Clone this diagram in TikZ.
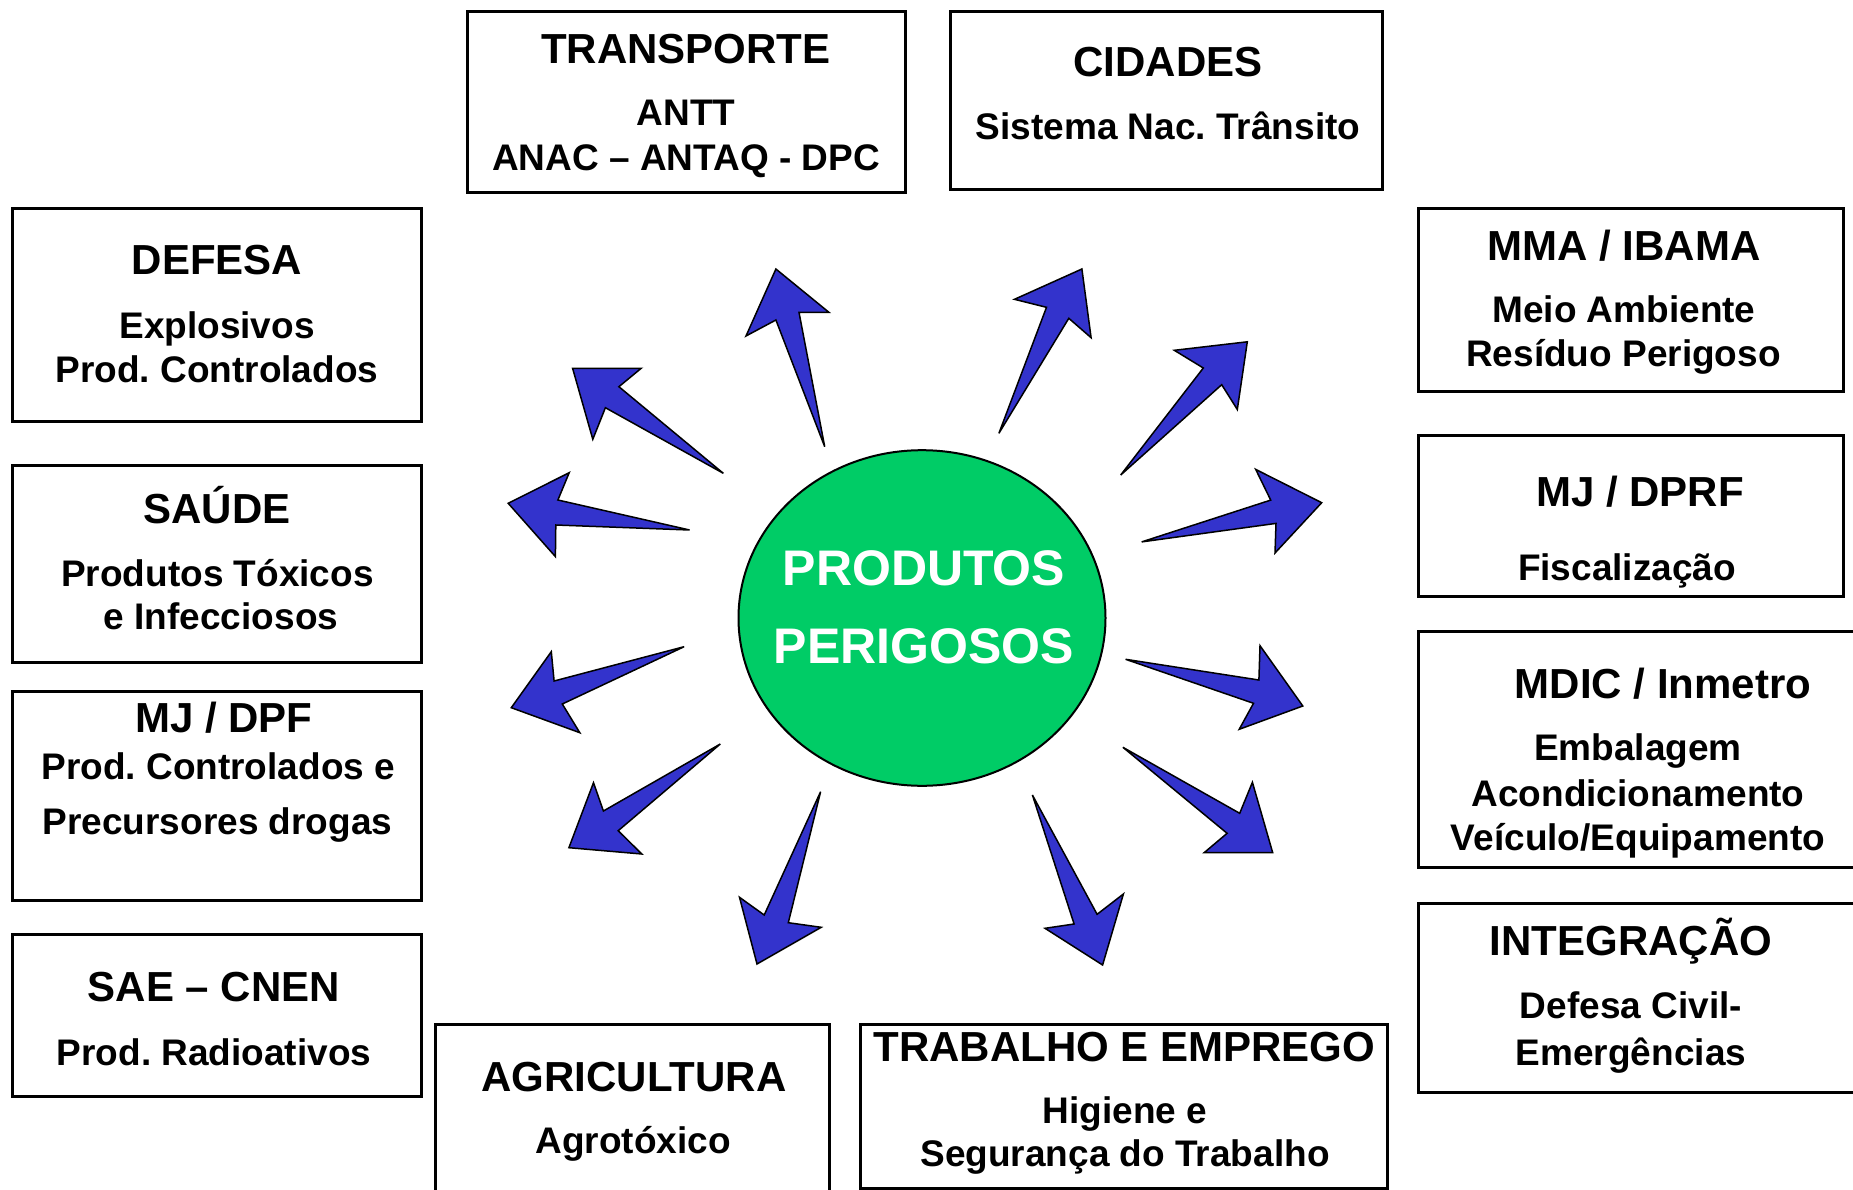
\documentclass[tikz,border=0pt]{standalone}
\usepackage{fontspec}
\setmainfont{Liberation Sans}
\usetikzlibrary{shapes.geometric}
\definecolor{pgreen}{RGB}{0,204,102}
\definecolor{pblue}{RGB}{51,51,204}
\frenchspacing
\begin{document}
\begin{tikzpicture}[x=1pt,y=-1pt,
 box/.style={draw=black, line width=3pt, inner sep=0pt, outer sep=0pt, rectangle},
 ttl/.style={font=\fontsize{42}{48}\selectfont\bfseries, anchor=base, inner sep=0pt},
 bdy/.style={font=\fontsize{37}{42}\selectfont\bfseries, anchor=base, inner sep=0pt},
 ctr/.style={font=\fontsize{50}{58}\selectfont\bfseries, text=white, anchor=base, inner sep=0pt},
 arr/.style={fill=pblue, draw=black, line width=1.5pt, line join=miter}]
\useasboundingbox (0,0) rectangle (1853,1190);
\clip (0,0) rectangle (1853,1190);

% boxes
\node[box, minimum width=438pt, minimum height=181pt] (bTRA) at (686,102.2) {};
\node[box, minimum width=432pt, minimum height=178.3pt] (bCID) at (1166,100.85) {};
\node[box, minimum width=409.4pt, minimum height=212.7pt] (bDEF) at (217,314.65) {};
\node[box, minimum width=409.4pt, minimum height=197.4pt] (bSAU) at (217,564) {};
\node[box, minimum width=409.4pt, minimum height=208.3pt] (bDPF) at (217,795.85) {};
\node[box, minimum width=409.4pt, minimum height=162.7pt] (bSAE) at (217,1015.35) {};
\node[box, minimum width=425pt, minimum height=183.4pt] (bMMA) at (1630.8,300) {};
\node[box, minimum width=425pt, minimum height=161pt] (bPRF) at (1630.8,515.5) {};
\node[box, minimum width=441.7pt, minimum height=236pt] (bMDI) at (1639.15,749.7) {};
\node[box, minimum width=441.7pt, minimum height=189.4pt] (bINT) at (1639.15,998) {};
\node[box, minimum width=393.8pt, minimum height=186pt] (bAGR) at (632.5,1117) {};
\node[box, minimum width=526.9pt, minimum height=164pt] (bTRB) at (1124.05,1106) {};

% texts
\node[ttl] (tTRA1) at (686,64) {TRANSPORTE};
\node[bdy] (tTRA2) at (686,126) {ANTT};
\node[bdy] (tTRA3) at (686,170.7) {ANAC – ANTAQ - DPC};
\node[ttl] (tCID1) at (1168,76.7) {CIDADES};
\node[bdy] (tCID2) at (1168,140) {Sistema Nac. Trânsito};
\node[ttl] (tDEF1) at (217,275) {DEFESA};
\node[bdy] (tDEF2) at (217,339) {Explosivos};
\node[bdy] (tDEF3) at (217,382.7) {Prod. Controlados};
\node[ttl] (tSAU1) at (217,523.3) {SAÚDE};
\node[bdy] (tSAU2) at (217.5,586) {Produtos Tóxicos};
\node[bdy] (tSAU3) at (221,629.3) {e Infecciosos};
\node[ttl] (tDPF1) at (224,732.3) {MJ / DPF};
\node[bdy] (tDPF2) at (218.3,779) {Prod. Controlados e};
\node[bdy] (tDPF3) at (217.5,834) {Precursores drogas};
\node[ttl] (tSAE1) at (214,1001) {SAE – CNEN};
\node[bdy] (tSAE2) at (214,1065) {Prod. Radioativos};
\node[ttl] (tMMA1) at (1624,260.7) {MMA / IBAMA};
\node[bdy] (tMMA2) at (1624,322.3) {Meio Ambiente};
\node[bdy] (tMMA3) at (1623.5,366.7) {Resíduo Perigoso};
\node[ttl] (tPRF1) at (1640,506.7) {MJ / DPRF};
\node[bdy] (tPRF2) at (1627,580) {Fiscalização};
\node[ttl] (tMDI1) at (1663,698.3) {MDIC / Inmetro};
\node[bdy] (tMDI2) at (1638,760.7) {Embalagem};
\node[bdy] (tMDI3) at (1638,806.7) {Acondicionamento};
\node[bdy] (tMDI4) at (1638,850) {Veículo/Equipamento};
\node[ttl] (tINT1) at (1631,955) {INTEGRAÇÃO};
\node[bdy] (tINT2) at (1631,1018.3) {Defesa Civil-};
\node[bdy] (tINT3) at (1631,1065) {Emergências};
\node[ttl] (tAGR1) at (634,1091.7) {AGRICULTURA};
\node[bdy] (tAGR2) at (633,1153.3) {Agrotóxico};
\node[ttl] (tTRB1) at (1124.5,1061.7) {TRABALHO E EMPREGO};
\node[bdy] (tTRB2) at (1125,1123.3) {Higiene e};
\node[bdy] (tTRB3) at (1125,1166.7) {Segurança do Trabalho};

% centre
\node[ellipse, fill=pgreen, draw=black, line width=2pt, minimum width=367pt, minimum height=335.6pt, inner sep=0pt] (core) at (922,618) {};
\node[ctr] (cP1) at (924,585) {PRODUTOS};
\node[ctr] (cP2) at (924,663) {PERIGOSOS};

% arrows
\filldraw[arr] (824.7,446.7) -- (799,312.3) -- (828.9,312.3) -- (775.9,269) -- (746,336) -- (775.9,320) -- cycle;
\filldraw[arr] (998.9,433.3) -- (1046.5,307.3) -- (1014.5,299.3) -- (1081.9,269) -- (1091.1,337.7) -- (1068.8,318.3) -- cycle;
\filldraw[arr] (723.3,473.3) -- (618.9,386.7) -- (641.2,368.3) -- (572.6,368.3) -- (592.8,439.3) -- (605.4,407.7) -- cycle;
\filldraw[arr] (689.6,530) -- (557.9,500) -- (569.2,472.7) -- (508.2,503.3) -- (555.4,556.6) -- (555.8,525) -- cycle;
\filldraw[arr] (684.1,646.7) -- (554.1,681) -- (551.3,651.7) -- (511.3,707.7) -- (579.8,732.7) -- (562.3,704) -- cycle;
\filldraw[arr] (720.3,744) -- (603.4,811) -- (593.5,782.7) -- (568.9,847.7) -- (641.8,854) -- (618.2,830.7) -- cycle;
\filldraw[arr] (820.6,791.7) -- (788.3,922.7) -- (821.2,927.3) -- (757,964) -- (739.5,897.3) -- (764.2,915) -- cycle;
\filldraw[arr] (1032.4,795) -- (1097.1,914.3) -- (1123.4,894) -- (1102.6,965) -- (1045,928.3) -- (1074.1,924) -- cycle;
\filldraw[arr] (1122.9,747.3) -- (1239.7,813.3) -- (1252.4,782.3) -- (1272.7,852.7) -- (1204.1,852.7) -- (1227.1,833.3) -- cycle;
\filldraw[arr] (1125.6,659.3) -- (1258.9,680) -- (1260,645.7) -- (1302.8,706) -- (1239.2,729.3) -- (1253.5,703.3) -- cycle;
\filldraw[arr] (1141.7,541.9) -- (1276,523.4) -- (1275,553) -- (1321.7,502.7) -- (1255.7,469.4) -- (1270.7,500.1) -- cycle;
\filldraw[arr] (1120.7,475) -- (1221.7,384.7) -- (1237.3,409.5) -- (1247.3,341.8) -- (1174.3,350.3) -- (1203.3,368) -- cycle;
\end{tikzpicture}
\end{document}
